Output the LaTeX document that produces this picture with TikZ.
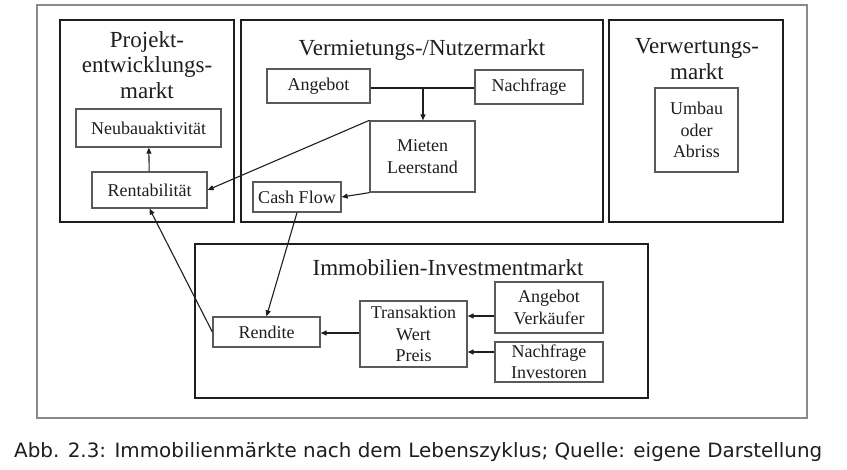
\documentclass[tikz,border=0pt]{standalone}
\usepackage{fontspec}
\setmainfont{Liberation Serif}
\newfontfamily\capfont{DejaVu Sans}
\usetikzlibrary{arrows.meta}
\definecolor{ink}{HTML}{1E1E1E}
\definecolor{boxline}{HTML}{5A5A5A}
\definecolor{framegray}{HTML}{8A8A8A}
\begin{document}
\begin{tikzpicture}[x=1pt,y=-1pt,
  market/.style={draw=ink,line width=2.4pt},
  title/.style={font=\fontsize{23}{25.5}\selectfont,align=center,text=ink,inner sep=0pt},
  item/.style={draw=boxline,line width=1.3pt,font=\fontsize{18}{21.5}\selectfont,align=center,text=ink,inner sep=0pt,minimum width=#1},
  item/.default=10pt,
  conn/.style={draw=ink,line width=1.1pt,-{Triangle[length=6pt,width=5pt]}},
  plain/.style={draw=ink,line width=1.1pt}
]
\useasboundingbox (0,0) rectangle (847,470);
\fill[white] (0,0) rectangle (847,470);
% outer frame
\draw[framegray,line width=1.5pt] (37,5) rectangle (807,418);
% market boxes
\draw[market] (60,20) rectangle (234,222);
\draw[market] (241,20) rectangle (603,222);
\draw[market] (609,20) rectangle (783,222);
\draw[market] (195,244) rectangle (648,398);
% titles
\node[title] (t1) at (147,65) {Projekt-\\entwicklungs-\\markt};
\node[title] (t2) at (422,50) {Vermietungs-/Nutzermarkt};
\node[title] (t3) at (697,59) {Verwertungs-\\markt};
\node[title] (t4) at (448,268) {Immobilien-Investmentmarkt};
% items
\node[item=145pt,minimum height=38pt] (neubau) at (148.5,128) {Neubauaktivität};
\node[item=115pt,minimum height=36pt] (rentab) at (149.5,190) {Rentabilität};
\node[item=103pt,minimum height=34pt] (angebot) at (318.5,86) {Angebot};
\node[item=108pt,minimum height=34pt] (nachfrage) at (529,87) {Nachfrage};
\node[item=105pt,minimum height=71pt] (mieten) at (422.5,156.5) {Mieten\\Leerstand};
\node[item=88pt,minimum height=30pt] (cash) at (297,197) {Cash Flow};
\node[item=83pt,minimum height=84pt] (umbau) at (696.5,130) {Umbau\\oder\\Abriss};
\node[item=107pt,minimum height=30pt] (rendite) at (266.5,332) {Rendite};
\node[item=107pt,minimum height=66pt] (trans) at (413.5,334) {Transaktion\\Wert\\Preis};
\node[item=108pt,minimum height=51pt] (angv) at (549,307.5) {Angebot\\Verkäufer};
\node[item=108pt,minimum height=40pt] (nachi) at (549,362) {Nachfrage\\Investoren};
% connectors
\coordinate (jn) at (423,88);
\draw[plain] (angebot.east |- jn) -- (nachfrage.west |- jn);
\draw[conn] (jn) -- (mieten.north -| jn);
\draw[conn] (rentab) -- (neubau);
\draw[conn] (mieten.north west) -- (rentab.east);
\draw[conn] (mieten.south west) -- (cash.east);
\draw[conn] (cash.south) -- (rendite.north);
\draw[conn] (rendite.west) -- (rentab.south);
\draw[conn] (trans.west |- 0,333) -- (rendite.east |- 0,333);
\draw[conn] (angv.west |- 0,316) -- (trans.east |- 0,316);
\draw[conn] (nachi.west |- 0,352) -- (trans.east |- 0,352);
% caption
\node[anchor=base west,inner sep=0pt,text=ink] (cap) at (14,457)
  {\resizebox{808pt}{15pt}{\capfont Abb. 2.3: Immobilienmärkte nach dem Lebenszyklus; Quelle: eigene Darstellung}};
\end{tikzpicture}
\end{document}
